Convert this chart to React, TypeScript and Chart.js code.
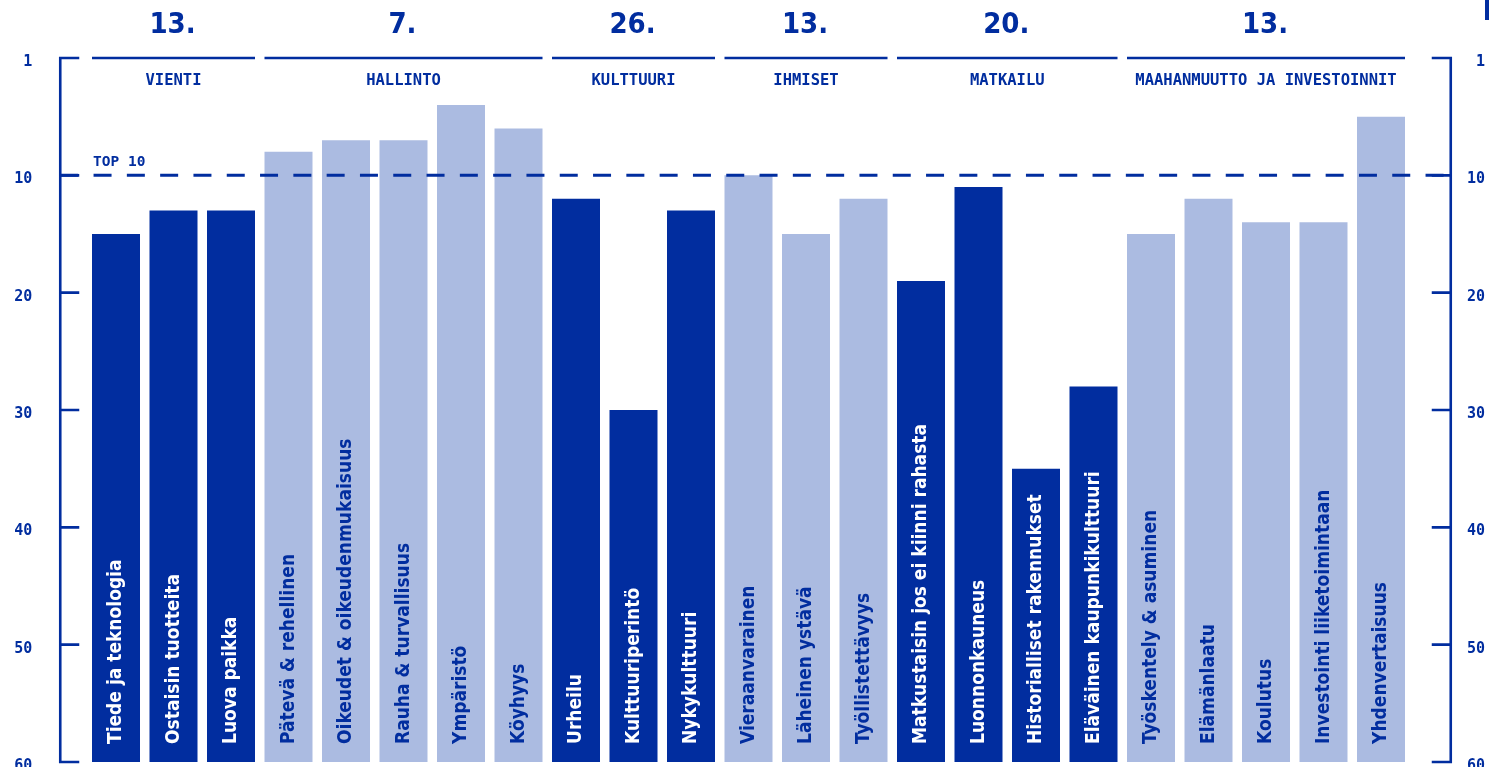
import React, { useEffect, useRef } from "react";
import { Chart, registerables } from "chart.js";

Chart.register(...registerables);

// ---------- data ----------
const categories = [
  "Tiede ja teknologia",
  "Ostaisin tuotteita",
  "Luova paikka",
  "Pätevä & rehellinen",
  "Oikeudet & oikeudenmukaisuus",
  "Rauha & turvallisuus",
  "Ympäristö",
  "Köyhyys",
  "Urheilu",
  "Kulttuuriperintö",
  "Nykykulttuuri",
  "Vieraanvarainen",
  "Läheinen ystävä",
  "Työllistettävyys",
  "Matkustaisin jos ei kiinni rahasta",
  "Luonnonkauneus",
  "Historialliset rakennukset",
  "Eläväinen kaupunkikulttuuri",
  "Työskentely & asuminen",
  "Elämänlaatu",
  "Koulutus",
  "Investointi liiketoimintaan",
  "Yhdenvertaisuus",
];
const ranks = [15, 13, 13, 8, 7, 7, 4, 6, 12, 30, 13, 10, 15, 12, 19, 11, 35, 28, 15, 12, 14, 14, 5];
const groupNames = ["VIENTI", "HALLINTO", "KULTTUURI", "IHMISET", "MATKAILU", "MAAHANMUUTTO JA INVESTOINNIT"];
const groupRanks = [13, 7, 26, 13, 20, 13];
const groupSizes = [3, 5, 3, 3, 4, 5];
const tickValues = [0, 10, 20, 30, 40, 50, 60];
const tickLabels = ["1", "10", "20", "30", "40", "50", "60"];
const topLimit = 10;
const topLabel = "TOP 10";
const lowestRank = 60;

// ---------- style ----------
const DARK = "#012d9f";
const LIGHT = "#abbbe1";
const MONO = '"DejaVu Sans Mono", monospace';
const COND = '"DejaVu Sans Condensed", "DejaVu Sans", sans-serif';

const groupOfBar: number[] = [];
groupSizes.forEach((n, g) => {
  for (let k = 0; k < n; k++) groupOfBar.push(g);
});
const barColors = groupOfBar.map((g) => (g % 2 === 0 ? DARK : LIGHT));
const labelColors = groupOfBar.map((g) => (g % 2 === 0 ? "#ffffff" : DARK));

const decorPlugin = {
  id: "decor",
  afterDraw(chart: any) {
    const ctx = chart.ctx as CanvasRenderingContext2D;
    const area = chart.chartArea;
    const y = chart.scales.y;
    const meta = chart.getDatasetMeta(0);
    const bars = meta.data as any[];
    const leftX = area.left - 27;
    const rightX = area.right + 41;
    const yTop = y.getPixelForValue(0);
    const yBot = y.getPixelForValue(lowestRank);

    ctx.save();
    ctx.strokeStyle = DARK;
    ctx.fillStyle = DARK;
    ctx.lineWidth = 2.6;
    ctx.lineCap = "butt";

    // axis brackets
    ctx.beginPath();
    ctx.moveTo(leftX, yTop - 1.3);
    ctx.lineTo(leftX, yBot + 1.3);
    ctx.moveTo(rightX, yTop - 1.3);
    ctx.lineTo(rightX, yBot + 1.3);
    tickValues.forEach((v) => {
      const py = y.getPixelForValue(v);
      ctx.moveTo(leftX, py);
      ctx.lineTo(leftX + 19, py);
      ctx.moveTo(rightX, py);
      ctx.lineTo(rightX - 19, py);
    });
    ctx.stroke();

    // top 10 dashed line
    const py10 = y.getPixelForValue(topLimit);
    ctx.beginPath();
    ctx.lineWidth = 3;
    ctx.setLineDash([18, 15.3]);
    ctx.moveTo(leftX, py10);
    ctx.lineTo(rightX, py10);
    ctx.stroke();
    ctx.setLineDash([]);

    // TOP 10 label
    const firstLeft = bars[0].x - bars[0].width / 2;
    ctx.font = `bold 14.5px ${MONO}`;
    ctx.textAlign = "left";
    ctx.textBaseline = "middle";
    ctx.fillText(topLabel, firstLeft + 1, py10 - 13);

    // group headers
    let idx = 0;
    groupSizes.forEach((n, g) => {
      const a = bars[idx];
      const b = bars[idx + n - 1];
      const x0 = a.x - a.width / 2;
      const x1 = b.x + b.width / 2;
      const cx = (x0 + x1) / 2;
      ctx.lineWidth = 2.6;
      ctx.beginPath();
      ctx.moveTo(x0, yTop);
      ctx.lineTo(x1, yTop);
      ctx.stroke();
      ctx.font = `bold 15.5px ${MONO}`;
      ctx.textAlign = "center";
      ctx.textBaseline = "middle";
      ctx.fillText(groupNames[g], cx, yTop + 23);
      ctx.font = `bold condensed 29px ${COND}`;
      ctx.fillText(groupRanks[g] + ".", cx - 1, 25);
      idx += n;
    });

    // bar labels
    bars.forEach((bar, i) => {
      const bottom = Math.max(bar.y, bar.base);
      ctx.save();
      ctx.translate(bar.x + 0.5, bottom - 18);
      ctx.rotate(-Math.PI / 2);
      ctx.font = `bold condensed 19px ${COND}`;
      ctx.fillStyle = labelColors[i];
      ctx.textAlign = "left";
      ctx.textBaseline = "middle";
      ctx.fillText(categories[i], 0, 0);
      ctx.restore();
    });

    // corner mark
    ctx.fillRect(chart.width - 4, 0, 4, 20);
    ctx.restore();
  },
};

export default function App() {
  const ref = useRef<HTMLCanvasElement | null>(null);

  useEffect(() => {
    if (!ref.current) return;
    const tickFont = { family: MONO, size: 15, weight: "bold" as const };
    const chart = new Chart(ref.current, {
      type: "bar",
      data: {
        labels: categories,
        datasets: [
          {
            data: ranks.map((r) => [r, lowestRank]) as any,
            backgroundColor: barColors,
            borderWidth: 0,
            barPercentage: 48 / 57.5,
            categoryPercentage: 1,
          },
        ],
      },
      options: {
        animation: false,
        responsive: false,
        devicePixelRatio: 1,
        layout: { padding: { top: 58, bottom: 5, left: 0, right: 4 } },
        plugins: { legend: { display: false }, tooltip: { enabled: false } },
        scales: {
          x: { display: false },
          y: {
            position: "left",
            min: 0,
            max: lowestRank,
            reverse: true,
            afterBuildTicks: (s: any) => {
              s.ticks = tickValues.map((v) => ({ value: v }));
            },
            ticks: {
              callback: (v: any) => tickLabels[tickValues.indexOf(Number(v))],
              font: tickFont,
              color: DARK,
              padding: 47,
              labelOffset: 4,
            },
            grid: { display: false },
            border: { display: false },
            afterFit: (s: any) => {
              s.width = 87.25;
              s.paddingTop = 0;
              s.paddingBottom = 0;
            },
          },
          y2: {
            position: "right",
            min: 0,
            max: lowestRank,
            reverse: true,
            afterBuildTicks: (s: any) => {
              s.ticks = tickValues.map((v) => ({ value: v }));
            },
            ticks: {
              callback: (v: any) => tickLabels[tickValues.indexOf(Number(v))],
              font: tickFont,
              color: DARK,
              crossAlign: "far",
              labelOffset: 4,
            },
            grid: { display: false },
            border: { display: false },
            afterFit: (s: any) => {
              s.width = 75.25;
              s.paddingTop = 0;
              s.paddingBottom = 0;
            },
          },
        },
      },
      plugins: [decorPlugin],
    });
    return () => chart.destroy();
  }, []);

  return (
    <div style={{ position: "fixed", left: 0, top: 0, width: 1489, height: 767, background: "#fff" }}>
      <canvas ref={ref} width={1489} height={767} style={{ width: 1489, height: 767 }} />
    </div>
  );
}
